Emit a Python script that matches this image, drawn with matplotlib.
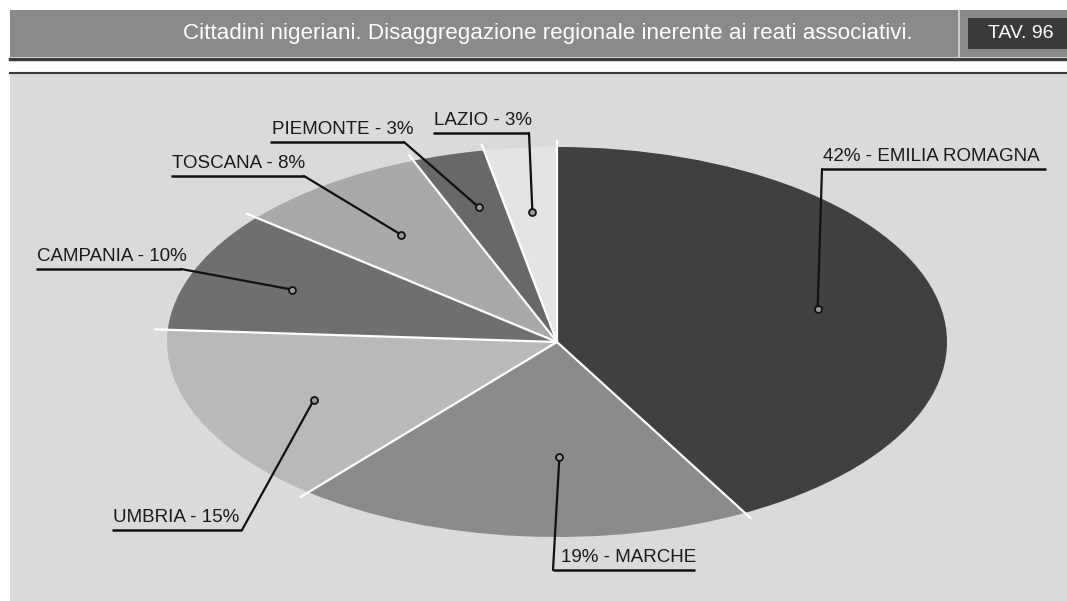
import numpy as np
import matplotlib.pyplot as plt
from matplotlib.patches import Rectangle

# Dati
regioni = ['EMILIA ROMAGNA', 'MARCHE', 'UMBRIA', 'CAMPANIA', 'TOSCANA', 'PIEMONTE', 'LAZIO']
percentuali = [42, 19, 15, 10, 8, 3, 3]
colori = ['#404040', '#8b8b8b', '#b9b9b9', '#6f6f6f', '#a9a9a9', '#686868', '#e4e4e4']
titolo = 'Cittadini nigeriani. Disaggregazione regionale inerente ai reati associativi.'
tavola = 'TAV. 96'

# posizione etichette (px): x testo, y sottolineatura, x0, x1, lato del raccordo,
# raggio del punto, spostamento angolare del punto (gradi)
etichette = [
    ('%d%% - %s', 823, 169, 822, 1046, 'left', 0.69, 0),
    ('%d%% - %s', 561, 570, 553, 695, 'left', 0.59, -6),
    ('%s - %d%%', 113, 530, 112, 242, 'right', 0.69, -2),
    ('%s - %d%%', 37, 269, 36, 181, 'right', 0.73, 0),
    ('%s - %d%%', 172, 176, 171, 304, 'right', 0.68, 0),
    ('%s - %d%%', 272, 142, 270, 404, 'right', 0.72, 0),
    ('%s - %d%%', 434, 133, 433, 529, 'right', 0.67, 0),
]

W, H = 1067, 601
fig = plt.figure(figsize=(W / 100, H / 100), dpi=100)
fig.patch.set_facecolor('white')

# livello di sfondo in pixel
bg = fig.add_axes([0, 0, 1, 1])
bg.set_xlim(0, W)
bg.set_ylim(H, 0)
bg.axis('off')
bg.add_patch(Rectangle((10, 74), W - 10, H - 74, color='#dadada', lw=0))
bg.plot([10, W], [72.5, 72.5], color='#3a3a3a', lw=1.5)
bg.add_patch(Rectangle((10, 10), W - 10, 47, color='#8a8a8a', lw=0))
bg.plot([10, W], [58.5, 58.5], color='#3a3a3a', lw=2.5)
bg.plot([959, 959], [10, 57], color='#d8d8d8', lw=1.2)
bg.add_patch(Rectangle((968, 18), W - 968, 31, color='#3a3a3a', lw=0))
t = bg.text(548, 34, titolo, color='white', fontsize=15, family='Liberation Sans',
            ha='center', va='center')
fig.canvas.draw()
larg = t.get_window_extent().width
t.set_fontsize(15 * 730 / larg)
bg.text(1021, 34, tavola, color='white', fontsize=14, family='Liberation Sans',
        ha='center', va='center')

# torta ellittica
cx, cy, rx, ry = 557, 342, 390, 195
mx, my = 440, 240
ax = fig.add_axes([(cx - mx) / W, (H - cy - my) / H, 2 * mx / W, 2 * my / H])
ax.pie(percentuali, colors=colori, startangle=90, counterclock=False,
       radius=1, wedgeprops=dict(edgecolor='none'))
ax.set_aspect('auto')
ax.set_xlim(-mx / rx, mx / rx)
ax.set_ylim(-my / ry, my / ry)
ax.axis('off')

# linee bianche di separazione
cum = np.concatenate([[0], np.cumsum(percentuali)[:-1]])
for c in cum:
    a = np.deg2rad(90 - c * 3.6)
    ax.plot([0, 1.035 * np.cos(a)], [0, 1.035 * np.sin(a)], color='white', lw=1.6,
            solid_capstyle='butt')

# etichette con raccordi
for i, (fmt, tx, uy, x0, x1, lato, r, dang) in enumerate(etichette):
    if fmt.startswith('%d'):
        testo = fmt % (percentuali[i], regioni[i])
    else:
        testo = fmt % (regioni[i], percentuali[i])
    bg.text(tx, uy - 4, testo, fontsize=13.5, family='Liberation Sans',
            color='#1a1a1a', ha='left', va='bottom')
    bg.plot([x0, x1], [uy, uy], color='#111111', lw=1.8, solid_capstyle='butt')
    mid = (cum[i] + percentuali[i] / 2) * 3.6 + dang
    a = np.deg2rad(90 - mid)
    px, py = r * np.cos(a), r * np.sin(a)
    sx = x0 if lato == 'left' else x1
    ax.annotate('', xy=(px, py), xytext=(sx, uy), textcoords=bg.transData,
                arrowprops=dict(arrowstyle='-', lw=1.6, color='#111111',
                                shrinkA=0, shrinkB=0))
    ax.plot(px, py, 'o', ms=5, mfc='#9a9a9a', mec='#111111', mew=1.3, zorder=5)

fig.savefig('out.png', dpi=100)
